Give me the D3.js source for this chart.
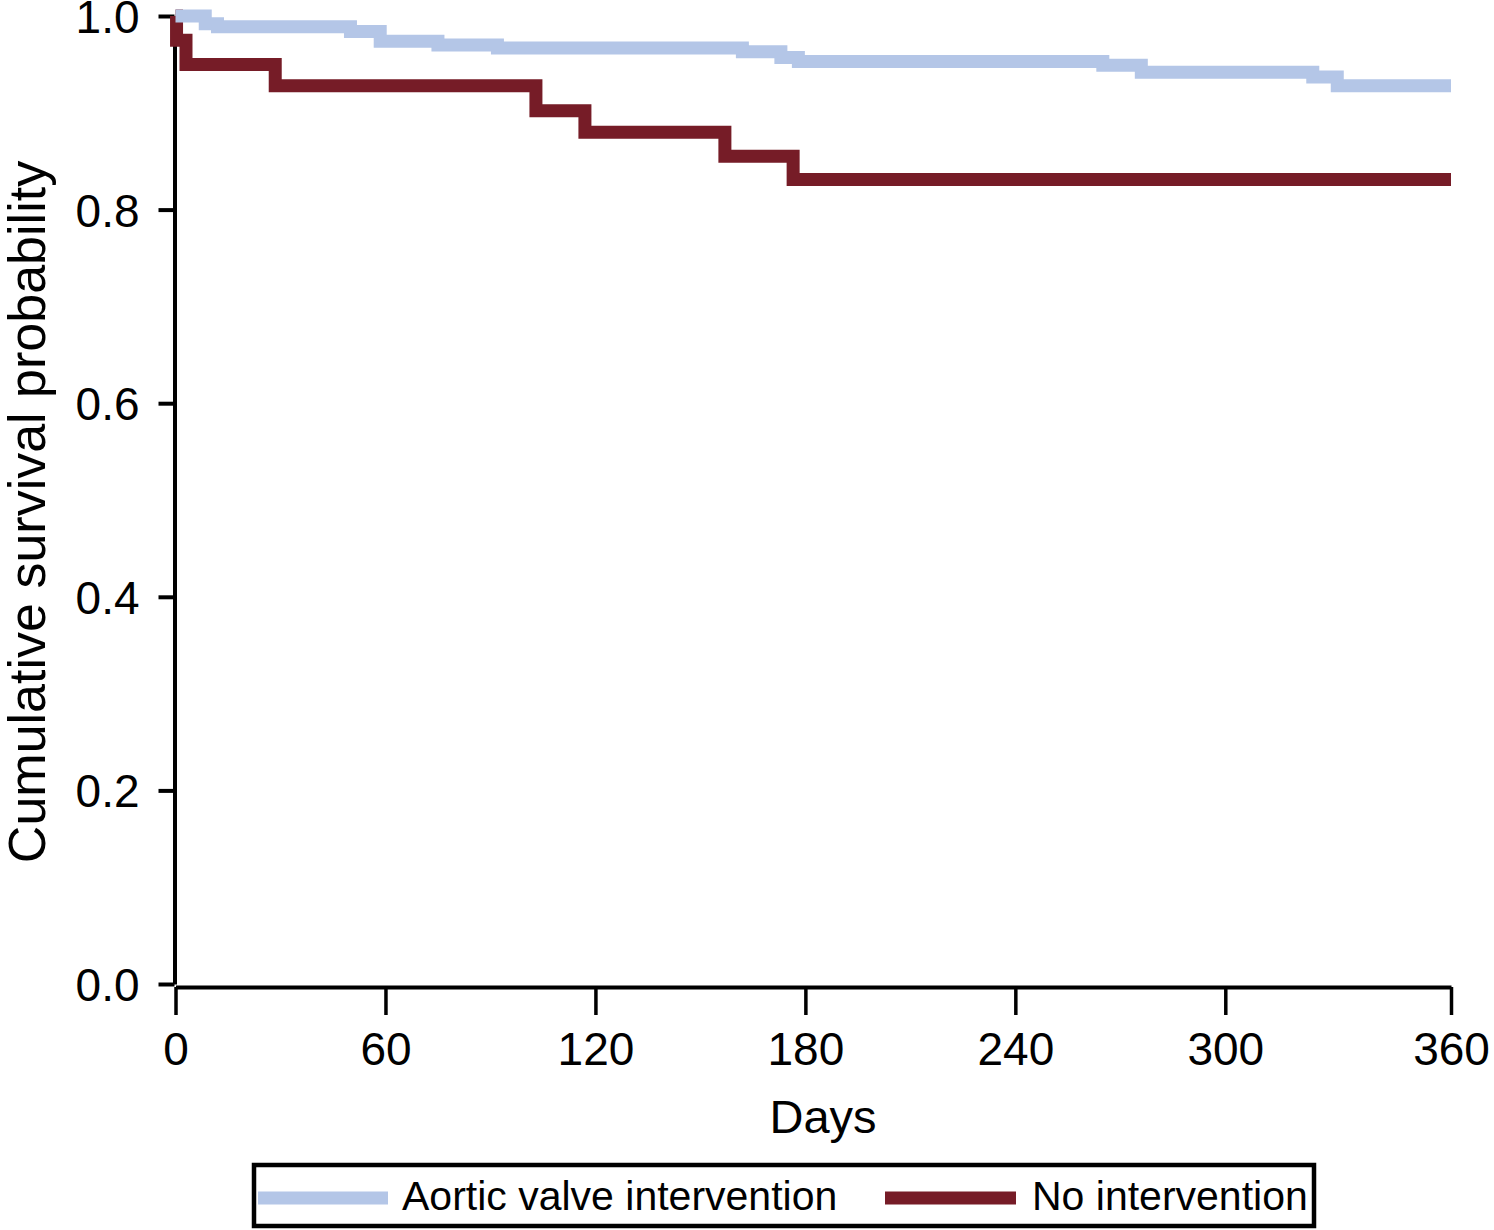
<!DOCTYPE html>
<html>
<head>
<meta charset="utf-8">
<script src="https://cdn.jsdelivr.net/npm/d3@7"></script>
<style>
  html, body { margin: 0; padding: 0; background: #fff; }
  svg { display: block; }
  text { font-family: "Liberation Sans", Arial, Helvetica, sans-serif; fill: #000; }
</style>
</head>
<body>
<svg id="chart" width="1494" height="1230"></svg>
<script>
// ---- Data ----
const seriesNames = ["Aortic valve intervention", "No intervention"];
const seriesColors = ["#b4c6e7", "#761c27"];

// Kaplan-Meier step points: [day, survival probability]
const aorticDays  = [0,     8.5,   12,    50,    58.5,  75,    92,    162,   173,   178,   265,   276,   325,   332,   364.5];
const aorticSurv  = [1.000, 0.992, 0.989, 0.984, 0.974, 0.970, 0.967, 0.963, 0.957, 0.953, 0.949, 0.942, 0.937, 0.928, 0.928];

const noIntDays   = [0,     0.3,   3,     28.5,  103,   117,   157,   176.5, 364.5];
const noIntSurv   = [1.000, 0.975, 0.950, 0.928, 0.902, 0.880, 0.855, 0.831, 0.831];

const yTickValues = [0, 0.2, 0.4, 0.6, 0.8, 1.0];
const xTickValues = [0, 60, 120, 180, 240, 300, 364.5];
const xTickLabels = ["0", "60", "120", "180", "240", "300", "360"];

const xTitle = "Days";
const yTitle = "Cumulative survival probability";

// ---- Build ----
const svg = d3.select("#chart");

const x = d3.scaleLinear().domain([0, 364.5]).range([175.5, 1451]);
const y = d3.scaleLinear().domain([0, 1]).range([984, 16]);

// Y axis
const yAxis = d3.axisLeft(y)
  .tickValues(yTickValues)
  .tickFormat(d3.format(".1f"))
  .tickSize(16)
  .tickSizeOuter(0)
  .tickPadding(19);

const gy = svg.append("g")
  .attr("transform", "translate(174.5,0)")
  .call(yAxis);
gy.select(".domain").attr("stroke", "#000").attr("stroke-width", 4);
gy.selectAll(".tick line").attr("stroke", "#000").attr("stroke-width", 4);
gy.selectAll(".tick text")
  .attr("font-size", 46)
  .attr("dy", "0.36em")
  .style("font-family", "'Liberation Sans', Arial, sans-serif");

// X axis
const xAxis = d3.axisBottom(x)
  .tickValues(xTickValues)
  .tickFormat((d, i) => xTickLabels[i])
  .tickSize(28)
  .tickSizeOuter(0)
  .tickPadding(17);

const gx = svg.append("g")
  .attr("transform", "translate(0,987)")
  .call(xAxis);
gx.select(".domain").attr("stroke", "#000").attr("stroke-width", 4);
gx.selectAll(".tick line").attr("stroke", "#000").attr("stroke-width", 3.5);
gx.selectAll(".tick text")
  .attr("font-size", 46)
  .style("font-family", "'Liberation Sans', Arial, sans-serif");

// Axis titles
svg.append("text")
  .attr("x", 823)
  .attr("y", 1133)
  .attr("text-anchor", "middle")
  .attr("font-size", 47)
  .text(xTitle);

svg.append("text")
  .attr("transform", "translate(45,512) rotate(-90)")
  .attr("text-anchor", "middle")
  .attr("font-size", 52)
  .text(yTitle);

// Curves
const line = d3.line()
  .x(d => x(d[0]))
  .y(d => y(d[1]))
  .curve(d3.curveStepAfter);

const noIntData = noIntDays.map((d, i) => [d, noIntSurv[i]]);
const aorticData = aorticDays.map((d, i) => [d, aorticSurv[i]]);

// draw red first, blue on top
svg.append("path")
  .datum(noIntData)
  .attr("fill", "none")
  .attr("stroke", seriesColors[1])
  .attr("stroke-width", 13)
  .attr("stroke-linejoin", "miter")
  .attr("stroke-linecap", "butt")
  .attr("d", line);

svg.append("path")
  .datum(aorticData)
  .attr("fill", "none")
  .attr("stroke", seriesColors[0])
  .attr("stroke-width", 13)
  .attr("stroke-linejoin", "miter")
  .attr("stroke-linecap", "butt")
  .attr("d", line);

// Legend
const legend = svg.append("g");
legend.append("rect")
  .attr("x", 254).attr("y", 1165)
  .attr("width", 1060).attr("height", 61)
  .attr("fill", "#fff")
  .attr("stroke", "#000")
  .attr("stroke-width", 4.5);

const legendItems = [
  { name: seriesNames[0], color: seriesColors[0], x0: 258, x1: 388, tx: 402 },
  { name: seriesNames[1], color: seriesColors[1], x0: 885, x1: 1016, tx: 1032 }
];
legendItems.forEach(it => {
  legend.append("line")
    .attr("x1", it.x0).attr("x2", it.x1)
    .attr("y1", 1198).attr("y2", 1198)
    .attr("stroke", it.color)
    .attr("stroke-width", 13);
  legend.append("text")
    .attr("x", it.tx).attr("y", 1210)
    .attr("font-size", 41)
    .text(it.name);
});
</script>
</body>
</html>
